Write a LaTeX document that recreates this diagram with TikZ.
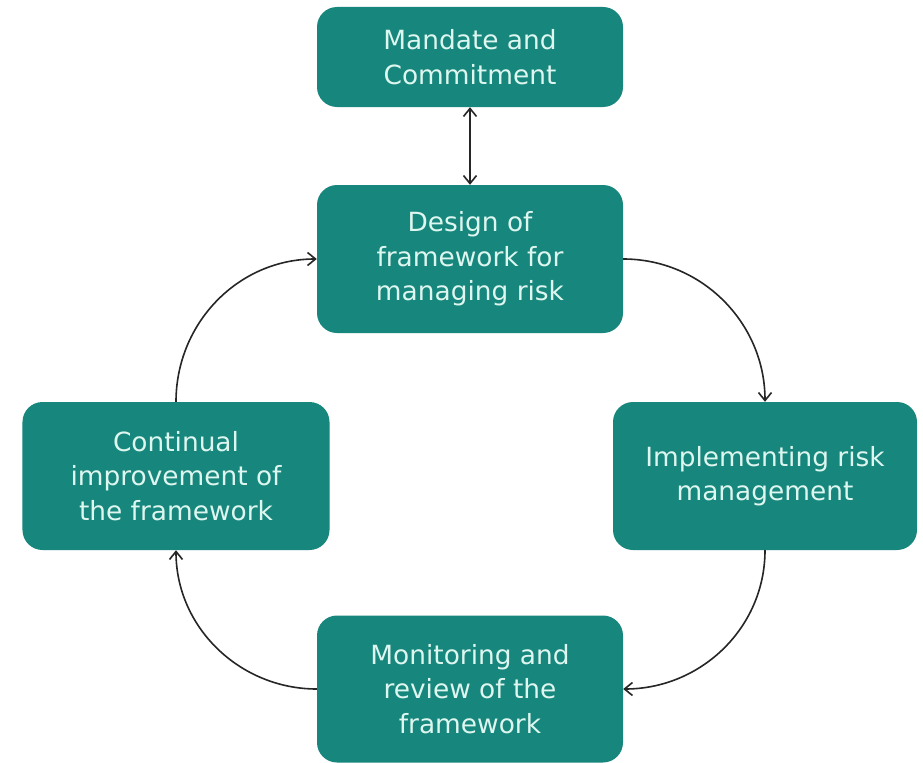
\documentclass[tikz,border=0pt]{standalone}
\usepackage{fontspec}
\setmainfont{DejaVu Sans}
\usetikzlibrary{arrows.meta}
\definecolor{boxteal}{HTML}{17877D}
\definecolor{boxtext}{HTML}{DDF6EF}
\begin{document}
\begin{tikzpicture}[x=1bp,y=-1bp,
  stagebox/.style={draw=none, fill=boxteal, rounded corners=20bp, text=boxtext,
    align=center, inner sep=0pt, font=\fontsize{26.5}{34.5}\selectfont},
  flow/.style={draw=black!85, line width=1.6bp, -{Straight Barb[length=8bp,width=13bp]}},
  both/.style={draw=black!85, line width=1.6bp, {Straight Barb[length=8bp,width=13bp]}-{Straight Barb[length=8bp,width=13bp]}}]
\useasboundingbox (0,0) rectangle (923,763);
\fill[white] (0,0) rectangle (923,763);
\node[stagebox, minimum width=306bp, minimum height=100bp] (mandate) at (470,57) {Mandate and\\Commitment};
\node[stagebox, minimum width=306bp, minimum height=148bp] (design) at (470,259) {Design of\\framework for\\managing risk};
\node[stagebox, minimum width=304bp, minimum height=148bp] (impl) at (765,476) {Implementing risk\\management};
\node[stagebox, minimum width=307bp, minimum height=148bp] (cont) at (176,476) {Continual\\improvement of\\the framework};
\node[stagebox, minimum width=306bp, minimum height=147bp] (monitor) at (470,689) {Monitoring and\\review of the\\framework};
\draw[both] (mandate.south) -- (design.north);
\draw[flow] (design.east) to[out=0,in=90] (impl.north);
\draw[flow] (impl.south) to[out=-90,in=0] (monitor.east);
\draw[flow] (monitor.west) to[out=180,in=-90] (cont.south);
\draw[flow] (cont.north) to[out=90,in=180] (design.west);
\end{tikzpicture}
\end{document}
